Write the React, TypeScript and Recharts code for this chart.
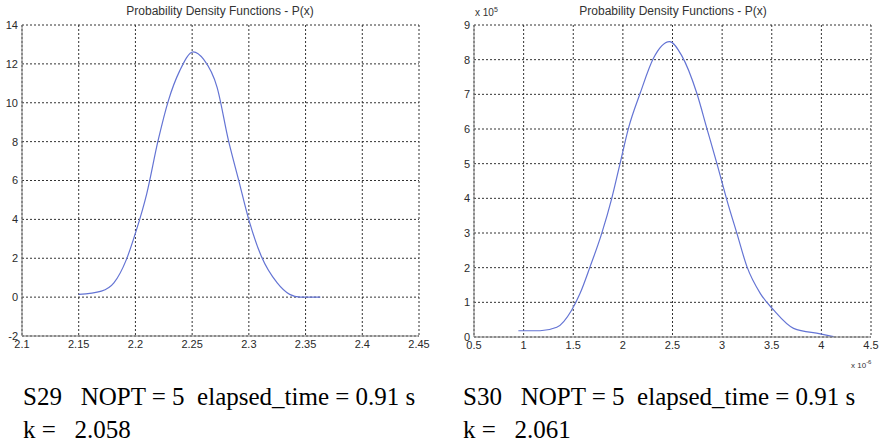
import { CartesianGrid, Line, LineChart, XAxis, YAxis } from "recharts";

// S29 – left panel
const leftX = [2.15, 2.17, 2.181, 2.192, 2.2, 2.21, 2.22, 2.229, 2.239, 2.251, 2.26, 2.272, 2.282, 2.291, 2.3, 2.311, 2.325, 2.336, 2.345, 2.363];
const leftP = [0.14, 0.31, 0.73, 1.93, 3.29, 5.33, 8.06, 10.1, 11.64, 12.62, 12.24, 10.79, 8.06, 6.02, 3.97, 2.1, 0.73, 0.14, 0, 0];
const leftXTicks = [2.1, 2.15, 2.2, 2.25, 2.3, 2.35, 2.4, 2.45];
const leftYTicks = [-2, 0, 2, 4, 6, 8, 10, 12, 14];

// S30 – right panel (x in 1e-6, P in 1e5)
const rightX = [0.947, 1.166, 1.334, 1.485, 1.569, 1.67, 1.787, 1.888, 1.972, 2.056, 2.174, 2.308, 2.47, 2.59, 2.745, 2.846, 2.947, 3.048, 3.149, 3.25, 3.384, 3.518, 3.72, 3.989, 4.124];
const rightP = [0.18, 0.18, 0.28, 0.78, 1.26, 2.03, 2.99, 4.0, 5.01, 6.02, 7.03, 8.04, 8.52, 8.13, 7.03, 6.02, 5.01, 3.95, 2.99, 2.03, 1.26, 0.78, 0.25, 0.09, 0.01];
const rightXTicks = [0.5, 1, 1.5, 2, 2.5, 3, 3.5, 4, 4.5];
const rightYTicks = [0, 1, 2, 3, 4, 5, 6, 7, 8, 9];

const title = "Probability Density Functions - P(x)";
const captions = [
  ["S29   NOPT = 5  elapsed_time = 0.91 s", "k =   2.058"],
  ["S30   NOPT = 5  elapsed_time = 0.91 s", "k =   2.061"],
];

const sans = "'Liberation Sans', Arial, sans-serif";
const tickStyle = { fill: "#2a2a2a", fontSize: 11, fontFamily: sans };
const boxColor = "#7a7a7a";
const lineColor = "#6474d4";

function Panel({ xs, ys, xTicks, yTicks, yAxisWidth, rightMargin, xHeight }: {
  xs: number[]; ys: number[]; xTicks: number[]; yTicks: number[];
  yAxisWidth: number; rightMargin: number; xHeight: number;
}) {
  const data = xs.map((x, i) => ({ x, p: ys[i] }));
  const xDom = [xTicks[0], xTicks[xTicks.length - 1]];
  const yDom = [yTicks[0], yTicks[yTicks.length - 1]];
  return (
    <LineChart width={440} height={360} data={data} margin={{ top: 25, right: rightMargin, left: 0, bottom: 0 }}>
      <CartesianGrid stroke="#333" strokeDasharray="2 2" />
      <XAxis dataKey="x" type="number" domain={xDom} ticks={xTicks} height={xHeight}
        tickSize={0} tickMargin={4} tick={tickStyle} axisLine={{ stroke: boxColor }} />
      <XAxis xAxisId="top" orientation="top" type="number" domain={xDom} height={0}
        tick={false} tickLine={false} axisLine={{ stroke: boxColor }} />
      <YAxis type="number" domain={yDom} ticks={yTicks} width={yAxisWidth}
        tickSize={0} tickMargin={4} tick={tickStyle} axisLine={{ stroke: boxColor }} />
      <YAxis yAxisId="right" orientation="right" type="number" domain={yDom} width={0}
        tick={false} tickLine={false} axisLine={{ stroke: boxColor }} />
      <Line dataKey="p" type="monotone" stroke={lineColor} strokeWidth={1.2} dot={false} isAnimationActive={false} />
    </LineChart>
  );
}

export default function App() {
  return (
    <div style={{ position: "absolute", left: 0, top: 0, width: 880, height: 443, background: "#fff" }}>
      <div style={{ position: "absolute", left: 0, top: 0 }}>
        <Panel xs={leftX} ys={leftP} xTicks={leftXTicks} yTicks={leftYTicks} yAxisWidth={22} rightMargin={21} xHeight={24} />
      </div>
      <div style={{ position: "absolute", left: 440, top: 0 }}>
        <Panel xs={rightX} ys={rightP} xTicks={rightXTicks} yTicks={rightYTicks} yAxisWidth={34} rightMargin={9} xHeight={23} />
      </div>
      <div style={{ position: "absolute", left: 20, width: 400, top: 4, textAlign: "center", font: `12px ${sans}`, color: "#333" }}>{title}</div>
      <div style={{ position: "absolute", left: 473, width: 400, top: 4, textAlign: "center", font: `12px ${sans}`, color: "#333" }}>{title}</div>
      <div style={{ position: "absolute", left: 475, top: 6, font: `10px ${sans}`, color: "#333" }}>
        x 10<sup style={{ fontSize: 7 }}>5</sup>
      </div>
      <div style={{ position: "absolute", left: 851, top: 359, font: `8px ${sans}`, color: "#333" }}>
        x 10<sup style={{ fontSize: 6 }}>-6</sup>
      </div>
      {captions.map((c, i) => (
        <div key={i} style={{ position: "absolute", left: i === 0 ? 23 : 463, top: 380, font: "25px 'Liberation Serif', 'Times New Roman', serif", lineHeight: "33px", whiteSpace: "pre", color: "#000" }}>
          {c[0]}
          <br />
          {c[1]}
        </div>
      ))}
    </div>
  );
}
